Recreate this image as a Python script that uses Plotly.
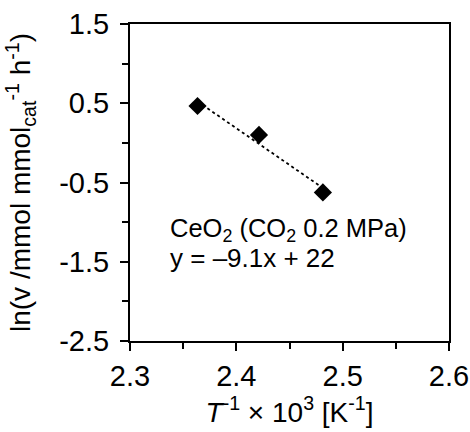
import numpy as np
import plotly.graph_objects as go

# data
inv_T = [2.3635, 2.4213, 2.4814]
ln_v = [0.465, 0.10, -0.625]

x_tickvals = [2.3, 2.4, 2.5, 2.6]
x_ticktext = ["2.3", "2.4", "2.5", "2.6"]
y_tickvals = [1.5, 0.5, -0.5, -1.5, -2.5]
y_ticktext = ["1.5", "0.5", "-0.5", "-1.5", "-2.5"]

label_line1 = "CeO<sub>2</sub> (CO<sub>2</sub> 0.2 MPa)"
label_line2 = "y = \u20139.1x + 22"

slope, intercept = np.polyfit(inv_T, ln_v, 1)
fit_x = [inv_T[0], inv_T[-1]]
fit_y = [slope * v + intercept for v in fit_x]

font = "Liberation Sans, Arial, sans-serif"

fig = go.Figure()
fig.add_trace(go.Scatter(x=fit_x, y=fit_y, mode="lines",
                         line=dict(color="black", width=1.8, dash="dot"),
                         showlegend=False, hoverinfo="skip"))
fig.add_trace(go.Scatter(x=inv_T, y=ln_v, mode="markers",
                         marker=dict(symbol="diamond", size=14, color="black"),
                         showlegend=False))

fig.add_annotation(xref="paper", yref="paper", x=0.12, y=0.35,
                   xanchor="left", yanchor="middle", align="left",
                   text=label_line1, showarrow=False,
                   font=dict(family=font, size=25.5, color="black"))
fig.add_annotation(xref="paper", yref="paper", x=0.12, y=0.263,
                   xanchor="left", yanchor="middle", align="left",
                   text=label_line2, showarrow=False,
                   font=dict(family=font, size=26, color="black"))

axis_common = dict(showline=True, linecolor="black", linewidth=2, mirror=True,
                   ticks="outside", tickcolor="black", tickwidth=2, ticklen=8,
                   showgrid=False, zeroline=False, automargin=False,
                   tickfont=dict(family=font, size=29, color="black"))

fig.update_xaxes(range=[2.3, 2.6], tickmode="array", tickvals=x_tickvals,
                 ticktext=x_ticktext,
                 minor=dict(tickmode="linear", tick0=2.35, dtick=0.1, ticks="outside",
                            ticklen=6, tickwidth=2, tickcolor="black", showgrid=False),
                 title=dict(text="<i>T</i><sup>-1</sup> \u00d7 10<sup>3</sup> [K<sup>-1</sup>]",
                            font=dict(family=font, size=28, color="black"), standoff=6),
                 **axis_common)
fig.update_yaxes(range=[-2.5, 1.5], tickmode="array", tickvals=y_tickvals,
                 ticktext=y_ticktext, ticklabelstandoff=5,
                 minor=dict(tickmode="linear", tick0=0, dtick=1, ticks="outside",
                            ticklen=6, tickwidth=2, tickcolor="black", showgrid=False),
                 title=dict(text="ln(v /mmol mmol<sub>cat</sub><sup>-1</sup> h<sup>-1</sup>)",
                            font=dict(family=font, size=28, color="black"), standoff=20),
                 **axis_common)

fig.update_layout(width=470, height=432, margin=dict(l=130, r=21, t=24, b=91),
                  paper_bgcolor="white", plot_bgcolor="white")

fig.write_html("out.html", config={"displayModeBar": False},
               post_script="document.body.style.margin='0px';"
                           "document.body.style.overflow='hidden';")
